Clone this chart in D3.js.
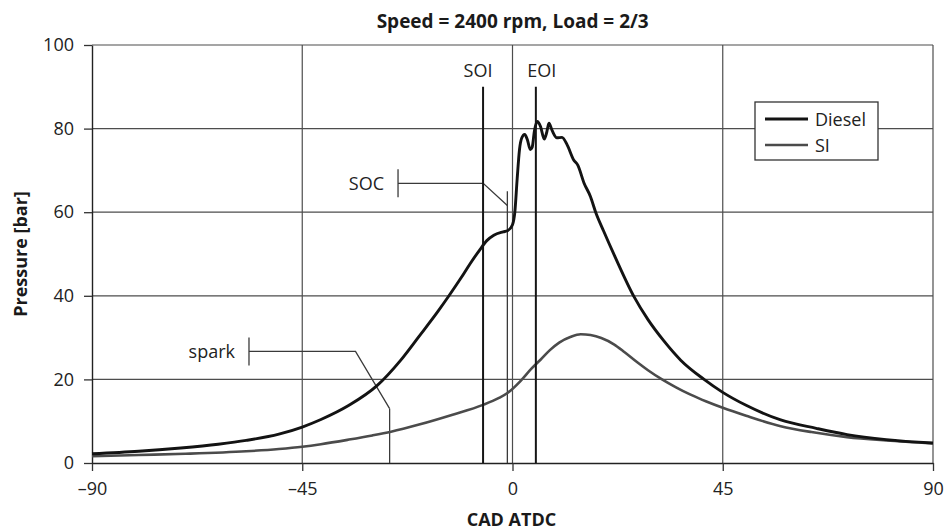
<!DOCTYPE html>
<html>
<head>
<meta charset="utf-8">
<script src="https://d3js.org/d3.v7.min.js"></script>
<style>
body { margin: 0; background: #fff; }
svg { display: block; font-family: "Open Sans", "Noto Sans", sans-serif; }
.tick text { font-size: 18px; fill: #222; }
</style>
</head>
<body>
<svg id="chart"></svg>
<script>
// crank angle (deg ATDC) and cylinder pressure (bar)
var dieselCad = [-90, -80, -71, -63, -57, -50, -45, -41, -35, -29, -24, -20, -16, -13.6, -11, -9, -7, -5.5, -4, -2, -1, 0, 0.5, 1.0, 1.5, 2.0, 2.6, 3.2, 3.8, 4.2, 4.7, 5.3, 6.0, 6.8, 7.3, 7.8, 8.5, 9.5, 10.6, 11.7, 13.1, 14.0, 15.3, 16.7, 17.8, 19.5, 22, 26, 29, 32.4, 36, 41, 45, 50, 57.4, 65, 71.6, 80, 90];
var dieselP   = [2.2, 2.8, 3.6, 4.5, 5.4, 6.9, 8.6, 10.4, 13.8, 18.5, 24.5, 30.3, 36.2, 40, 44.3, 47.8, 51.0, 53.2, 54.5, 55.3, 55.6, 57, 60, 68, 75, 77.8, 78.6, 77.3, 75, 75.5, 79.5, 81.7, 80.5, 77.5, 79, 81.3, 79.5, 77.8, 77.9, 76.1, 72.5, 71.2, 67, 63.7, 60, 55.5, 49.2, 39.8, 34.3, 29.2, 24.6, 20, 16.9, 13.8, 10.3, 8.3, 6.8, 5.6, 4.8];
var siCad = [-90, -80, -70, -57, -50, -45, -41, -35, -30, -26, -20, -13, -6.3, -3, -1, 1.7, 4, 6, 8, 10, 12.5, 14.6, 16.7, 19, 21.7, 24, 26.7, 29, 32, 35, 38, 41.5, 45, 50, 57.4, 64, 71.6, 80, 90];
var siP   = [1.6, 1.9, 2.2, 2.8, 3.35, 3.9, 4.5, 5.6, 6.6, 7.5, 9.2, 11.5, 13.9, 15.5, 16.8, 19.6, 22.5, 24.7, 27, 28.8, 30.2, 30.8, 30.6, 29.9, 28.4, 26.5, 24.1, 22.2, 20.0, 18.1, 16.4, 14.7, 13.2, 11.3, 8.8, 7.4, 6.2, 5.4, 4.7];

// injection events and ignition points (deg ATDC)
var eventNames = ['SOI', 'EOI'];
var eventCad = [-6.3, 5.0];
var socCad = -1.1;
var sparkCad = -26.3;

var xTicks = [-90, -45, 0, 45, 90];
var xTickLabels = ['\u201390', '\u201345', '0', '45', '90'];
var yTicks = [0, 20, 40, 60, 80, 100];
var seriesNames = ['Diesel', 'SI'];

var width = 944, height = 529;
var margin = {top: 45, right: 11, bottom: 66, left: 92};
var innerW = width - margin.left - margin.right;
var innerH = height - margin.top - margin.bottom;

var svg = d3.select('#chart').attr('width', width).attr('height', height);
var g = svg.append('g').attr('transform', 'translate(' + margin.left + ',' + margin.top + ')');

var x = d3.scaleLinear().domain([-90, 90]).range([0, innerW]);
var y = d3.scaleLinear().domain([0, 100]).range([innerH, 0]);

var gridColor = '#4d4d4d';

// grid lines
g.append('g').selectAll('line.h').data(yTicks.slice(1)).enter().append('line')
	.attr('x1', 0).attr('x2', innerW)
	.attr('y1', function(d) { return y(d); }).attr('y2', function(d) { return y(d); })
	.attr('stroke', gridColor).attr('stroke-width', 1.2);
g.append('g').selectAll('line.v').data(xTicks.slice(1)).enter().append('line')
	.attr('x1', function(d) { return x(d); }).attr('x2', function(d) { return x(d); })
	.attr('y1', 0).attr('y2', innerH)
	.attr('stroke', gridColor).attr('stroke-width', 1.2);

// axes
var xAxis = d3.axisBottom(x).tickValues(xTicks).tickSize(8).tickSizeOuter(0).tickPadding(11)
	.tickFormat(function(d, i) { return xTickLabels[i]; });
var yAxis = d3.axisLeft(y).tickValues(yTicks).tickSize(8).tickSizeOuter(0).tickPadding(10);
var gx = g.append('g').attr('transform', 'translate(0,' + innerH + ')').call(xAxis);
var gy = g.append('g').call(yAxis);
[gx, gy].forEach(function(a) {
	a.select('.domain').attr('stroke', '#222').attr('stroke-width', 1.4);
	a.selectAll('.tick line').attr('stroke', '#333').attr('stroke-width', 1.3);
	a.selectAll('.tick text').attr('font-family', '"Open Sans", sans-serif');
});

// annotation leader lines (SOC, spark)
var leader = d3.line().x(function(p) { return x(p[0]); }).y(function(p) { return y(p[1]); });
var leadColor = '#3a3a3a';
function drawLeader(cad, top, knee, elbowY, endCad, label) {
	g.append('line').attr('x1', x(cad)).attr('x2', x(cad)).attr('y1', y(0)).attr('y2', y(top))
		.attr('stroke', leadColor).attr('stroke-width', 1.3);
	g.append('path').datum([[cad, knee], [endCad[0], elbowY], [endCad[1], elbowY]])
		.attr('d', leader).attr('fill', 'none').attr('stroke', leadColor).attr('stroke-width', 1.3);
	var tx = x(endCad[1]);
	g.append('line').attr('x1', tx).attr('x2', tx).attr('y1', y(elbowY) - 14).attr('y2', y(elbowY) + 14)
		.attr('stroke', leadColor).attr('stroke-width', 1.3);
	g.append('text').attr('x', tx - 14).attr('y', y(elbowY) + 7).attr('text-anchor', 'end')
		.attr('font-size', 18).attr('fill', '#222').text(label);
}
drawLeader(socCad, 65, 61.6, 66.9, [-6.27, -24.5], 'SOC');
drawLeader(sparkCad, 13, 13, 26.7, [-33.6, -56.4], 'spark');

// pressure curves
var curve = d3.line()
	.x(function(d) { return x(d[0]); })
	.y(function(d) { return y(d[1]); })
	.curve(d3.curveMonotoneX);
var siData = siCad.map(function(c, i) { return [c, siP[i]]; });
var dieselData = dieselCad.map(function(c, i) { return [c, dieselP[i]]; });
var siColor = '#4b4b4b', dieselColor = '#131313';
g.append('path').datum(siData).attr('d', curve).attr('fill', 'none')
	.attr('stroke', siColor).attr('stroke-width', 2.6);
g.append('path').datum(dieselData).attr('d', curve).attr('fill', 'none')
	.attr('stroke', dieselColor).attr('stroke-width', 2.9);

// SOI / EOI markers
eventCad.forEach(function(c, i) {
	g.append('line').attr('x1', x(c)).attr('x2', x(c)).attr('y1', y(0)).attr('y2', y(90))
		.attr('stroke', '#151515').attr('stroke-width', 2);
	g.append('text').attr('x', x(c) + (i === 0 ? -5 : 6)).attr('y', y(90) - 9.5)
		.attr('text-anchor', 'middle').attr('font-size', 18).attr('fill', '#222').text(eventNames[i]);
});

// legend
var lg = svg.append('g').attr('transform', 'translate(755,102)');
lg.append('rect').attr('width', 123).attr('height', 58).attr('fill', '#fff')
	.attr('stroke', '#333').attr('stroke-width', 1.3);
[dieselColor, siColor].forEach(function(col, i) {
	var ly = 17 + i * 26;
	lg.append('line').attr('x1', 10).attr('x2', 53).attr('y1', ly).attr('y2', ly)
		.attr('stroke', col).attr('stroke-width', i === 0 ? 2.9 : 2.6);
	lg.append('text').attr('x', 60).attr('y', ly + 7).attr('font-size', 18).attr('fill', '#222').text(seriesNames[i]);
});

// titles
svg.append('text').attr('x', 512.7).attr('y', 28).attr('text-anchor', 'middle')
	.attr('font-size', 19).attr('font-weight', 'bold').attr('fill', '#1a1a1a')
	.text('Speed = 2400 rpm, Load = 2/3');
svg.append('text').attr('x', 511.5).attr('y', 525.5).attr('text-anchor', 'middle')
	.attr('font-size', 18).attr('font-weight', 'bold').attr('fill', '#1a1a1a').text('CAD ATDC');
svg.append('text').attr('transform', 'translate(27,254) rotate(-90)').attr('text-anchor', 'middle')
	.attr('font-size', 18).attr('font-weight', 'bold').attr('fill', '#1a1a1a').text('Pressure [bar]');
</script>
</body>
</html>
